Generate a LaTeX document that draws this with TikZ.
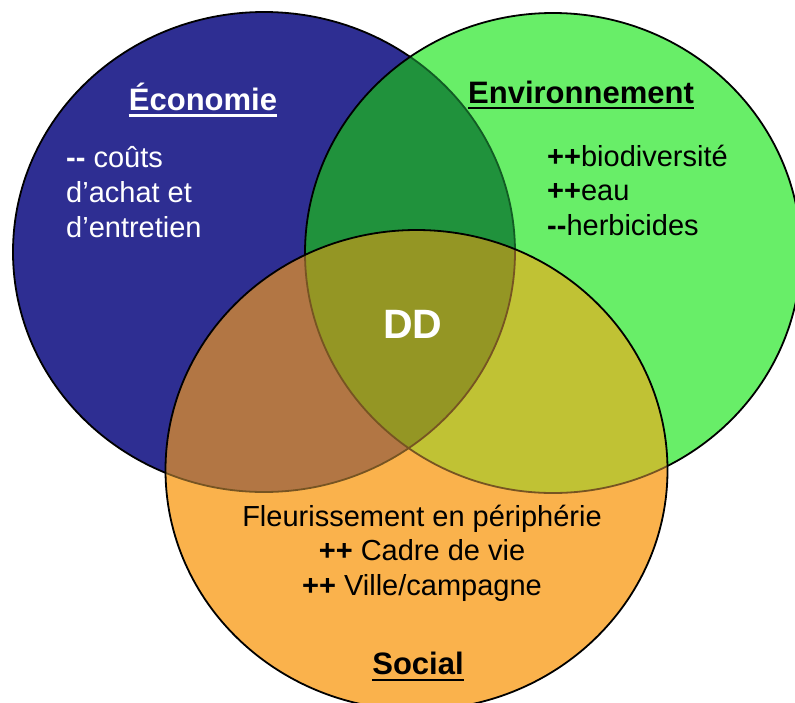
\documentclass[tikz,border=0pt]{standalone}
\usepackage{fontspec}
\setmainfont{Liberation Sans}
% region colours of the three-set diagram
\definecolor{cB}{RGB}{46,46,146}
\definecolor{cG}{RGB}{104,238,104}
\definecolor{cBG}{RGB}{32,146,60}
\definecolor{cO}{RGB}{250,178,76}
\definecolor{cBO}{RGB}{178,118,68}
\definecolor{cGO}{RGB}{192,194,52}
\definecolor{cBGO}{RGB}{148,150,36}
\definecolor{edgeinG}{RGB}{18,92,36}
\definecolor{edgeinO}{RGB}{118,84,34}
\tikzset{
  setdisc/.style={draw=black, line width=1.8pt},
  dimedge/.style={line width=1.8pt},
  titletext/.style={font=\bfseries\fontsize{31}{36}\selectfont, inner sep=0pt, anchor=base},
  bodytext/.style={font=\fontsize{29}{34}\selectfont, inner sep=0pt},
  leftline/.style={bodytext, anchor=base west},
  midline/.style={bodytext, anchor=base},
  uline/.style={line width=2.6pt},
}
\def\setB{(264,252) ellipse [x radius=251, y radius=240]}
\def\setG{(553,253) ellipse [x radius=248, y radius=240]}
\def\setO{(416.5,470) ellipse [x radius=251, y radius=240]}
\begin{document}
\begin{tikzpicture}[x=1pt,y=-1pt]
  \useasboundingbox (0,0) rectangle (795,702);
  \clip (0,0) rectangle (795,702);
  \fill[white] (0,0) rectangle (795,702);

  % Économie set
  \filldraw[setdisc, fill=cB] \setB;

  % Environnement set, with its overlap on Économie
  \fill[cG] \setG;
  \begin{scope}
    \clip \setG;
    \fill[cBG] \setB;
    \draw[dimedge, edgeinG] \setB;
  \end{scope}
  \draw[setdisc] \setG;

  % Social set, with its overlaps
  \fill[cO] \setO;
  \begin{scope}
    \clip \setO;
    \fill[cBO] \setB;
    \fill[cGO] \setG;
    \begin{scope}
      \clip \setB;
      \fill[cBGO] \setG;
    \end{scope}
    \draw[dimedge, edgeinO] \setB;
    \draw[dimedge, edgeinO] \setG;
  \end{scope}
  \draw[setdisc] \setO;

  % Économie
  \node[titletext, text=white] (ecot) at (203,110) {Économie};
  \draw[uline, white] ([yshift=-5.5pt]ecot.base west) -- ([yshift=-5.5pt]ecot.base east);
  \node[leftline, text=white] (eco1) at (66,167) {\textbf{-{}-} coûts};
  \node[leftline, text=white] (eco2) at (66,202) {d'achat et};
  \node[leftline, text=white] (eco3) at (66,237) {d'entretien};

  % Environnement
  \node[titletext] (envt) at (581,103) {Environnement};
  \draw[uline] ([yshift=-5pt]envt.base west) -- ([yshift=-5pt]envt.base east);
  \node[leftline] (env1) at (547,166) {\textbf{++}biodiversité};
  \node[leftline] (env2) at (547,200) {\textbf{++}eau};
  \node[leftline] (env3) at (547,235) {\textbf{-{}-}herbicides};

  % centre
  \node[font=\bfseries\fontsize{41}{48}\selectfont, text=white, inner sep=0pt, anchor=base] (dd) at (413,338) {DD};

  % Social
  \node[midline] (soc1) at (422,526) {Fleurissement en périphérie};
  \node[midline] (soc2) at (422,560) {\textbf{++} Cadre de vie};
  \node[midline] (soc3) at (422,595) {\textbf{++} Ville/campagne};
  \node[titletext] (soct) at (418,674) {Social};
  \draw[uline] ([yshift=-6pt]soct.base west) -- ([yshift=-6pt]soct.base east);
\end{tikzpicture}
\end{document}
